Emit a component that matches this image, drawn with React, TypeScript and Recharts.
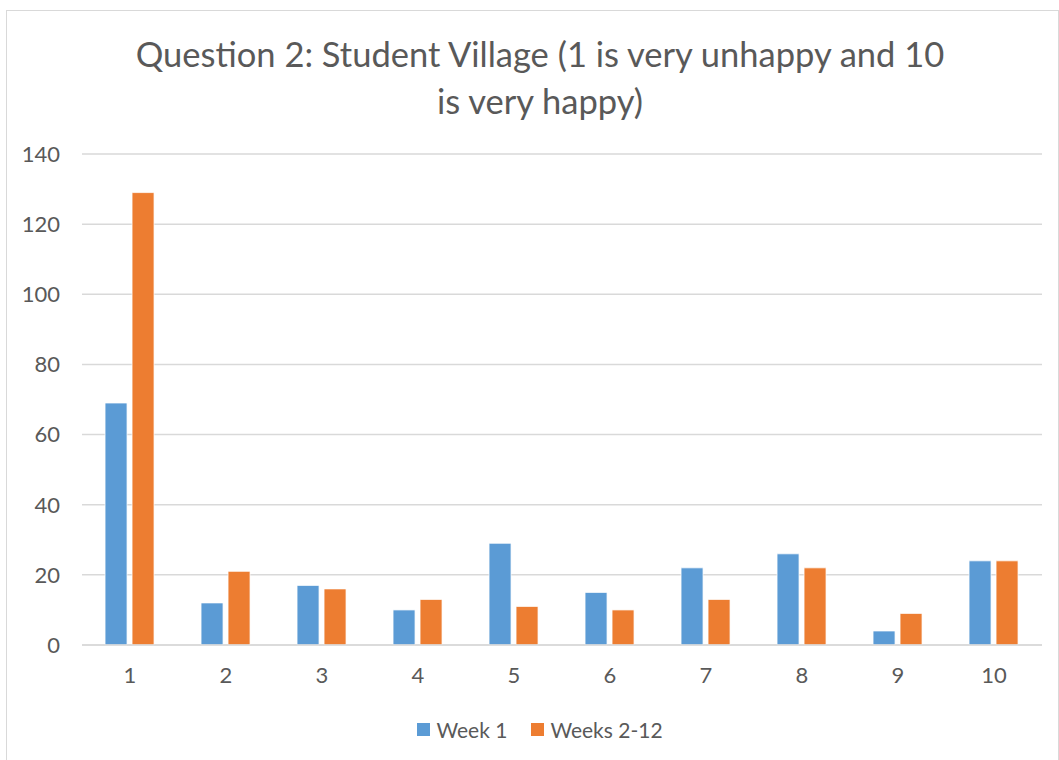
import React from 'react';
import { BarChart, Bar, XAxis, YAxis, CartesianGrid, Legend } from 'recharts';

const ratings = ['1', '2', '3', '4', '5', '6', '7', '8', '9', '10'];
const week1 = [69, 12, 17, 10, 29, 15, 22, 26, 4, 24];
const weeks2to12 = [129, 21, 16, 13, 11, 10, 13, 22, 9, 24];
const yTicks = [0, 20, 40, 60, 80, 100, 120, 140];

const seriesInfo = [
  { key: 'week1', label: 'Week 1', color: '#5B9BD5' },
  { key: 'weeks2to12', label: 'Weeks 2-12', color: '#ED7D31' },
];

const data = ratings.map((r, i) => ({
  rating: r,
  week1: week1[i],
  weeks2to12: weeks2to12[i],
}));

const font = 'Lato, "Open Sans", sans-serif';
const textColor = '#595959';

const LegendContent = () => (
  <div style={{ display: 'flex', justifyContent: 'center', alignItems: 'center', fontFamily: font, fontSize: 21, color: textColor }}>
    {seriesInfo.map((s, i) => (
      <div key={s.key} style={{ display: 'flex', alignItems: 'center', marginLeft: i ? 24 : 0 }}>
        <span style={{ width: 13, height: 13, background: s.color, display: 'inline-block', marginRight: 6 }} />
        <span>{s.label}</span>
      </div>
    ))}
  </div>
);

const App: React.FC = () => {
  return (
    <div
      style={{
        position: 'absolute',
        left: 6,
        top: 10,
        width: 1053,
        height: 751,
        border: '1px solid #d9d9d9',
        boxSizing: 'border-box',
        background: '#fff',
      }}
    >
      <div
        style={{
          position: 'absolute',
          left: 0,
          width: 1066,
          top: 19,
          textAlign: 'center',
          fontFamily: font,
          fontSize: 34.5,
          lineHeight: '47px',
          color: textColor,
        }}
      >
        Question 2: Student Village (1 is very unhappy and 10
        <br />
        is very happy)
      </div>
      <BarChart
        width={1051}
        height={749}
        data={data}
        margin={{ top: 143, right: 16, left: 15, bottom: 50 }}
        barGap={5}
        barCategoryGap="24%"
      >
        <CartesianGrid vertical={false} stroke="#d9d9d9" strokeWidth={1.5} />
        <XAxis
          dataKey="rating"
          tickLine={false}
          tickSize={0}
          tickMargin={22}
          axisLine={{ stroke: '#d9d9d9', strokeWidth: 1.5 }}
          tick={{ fill: textColor, fontFamily: font, fontSize: 22 }}
          height={40}
        />
        <YAxis
          domain={[0, 140]}
          ticks={yTicks}
          tickLine={false}
          tickSize={0}
          axisLine={false}
          tickMargin={22}
          width={60}
          tick={{ fill: textColor, fontFamily: font, fontSize: 22 }}
        />
        <Legend content={<LegendContent />} wrapperStyle={{ top: 706, left: 0, width: 1066 }} />
        {seriesInfo.map((s) => (
          <Bar
            key={s.key}
            dataKey={s.key}
            name={s.label}
            fill={s.color}
            stroke="#ffffff"
            strokeWidth={0.75}
            isAnimationActive={false}
          />
        ))}
      </BarChart>
    </div>
  );
};

export default App;
